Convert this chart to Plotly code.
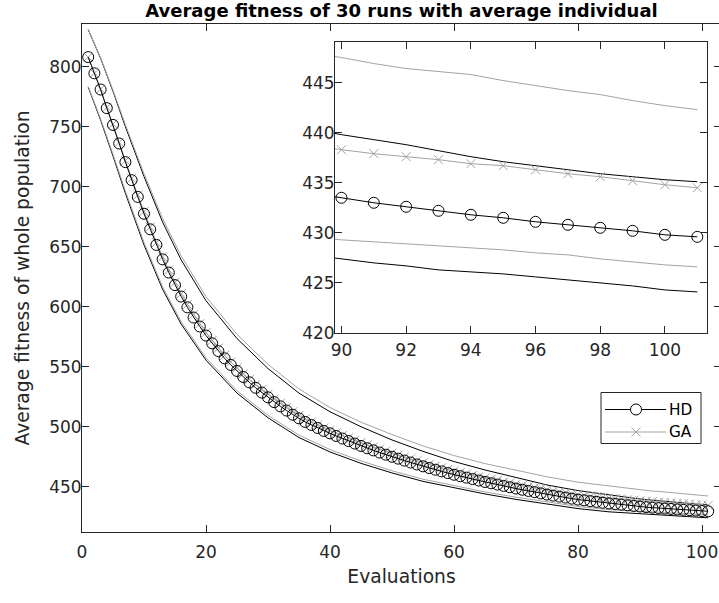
import plotly.graph_objects as go

# ---------------- data ----------------
evals = list(range(1, 102))

hd_mean = [808, 794.5, 781, 765.5, 751.5, 736, 720.5, 705.5, 691.5, 677.5,
           664.5, 651.5, 639.5, 628.5, 618, 608.5, 599.5, 591, 583.5, 576,
           569.5, 563, 557, 551.5, 546.5, 541.5, 537, 532.5, 528.5, 524.5,
           520.5, 517, 513.5, 510, 507, 504, 501.5, 499, 496.5, 494.5,
           492.3, 490.2, 488.1, 486, 484, 482.1, 480.3, 478.5, 476.7, 475,
           473.4, 471.8, 470.2, 468.6, 467, 465.6, 464.2, 462.8, 461.4, 460,
           458.8, 457.6, 456.4, 455.2, 454, 452.9, 451.8, 450.7, 449.6, 448.5,
           447.5, 446.5, 445.5, 444.5, 443.5, 442.6, 441.8, 441, 440.1, 439.3,
           438.7, 438, 437.4, 436.7, 436.1, 435.6, 435.1, 434.5, 434, 433.5,
           433.0, 432.6, 432.2, 431.8, 431.5, 431.1, 430.8, 430.5, 430.2, 429.8,
           429.6]

ga_mean = [808, 794.7, 781.4, 766.1, 752.3, 737, 721.7, 706.9, 693.1, 679.3,
           666.4, 653.5, 641.6, 630.7, 620.3, 610.8, 601.9, 593.4, 585.9, 578.4,
           572, 565.5, 559.5, 554, 549, 544, 539.5, 535, 531, 527,
           523, 519.5, 516, 512.5, 509.5, 506.5, 504, 501.5, 499, 497,
           494.9, 492.8, 490.8, 488.7, 486.8, 484.9, 483.2, 481.4, 479.7, 478,
           476.4, 474.8, 473.2, 471.6, 470, 468.6, 467.2, 465.8, 464.4, 463,
           461.9, 460.7, 459.6, 458.4, 457.3, 456.2, 455.2, 454.1, 453.1, 452,
           451.1, 450.1, 449.2, 448.3, 447.3, 446.5, 445.7, 445, 444.1, 443.3,
           442.8, 442.2, 441.7, 441.1, 440.6, 440.2, 439.8, 439.2, 438.8, 438.3,
           437.9, 437.6, 437.3, 436.9, 436.7, 436.3, 435.9, 435.6, 435.2, 434.8,
           434.5]

bound_evals = [1, 3, 5, 7, 10, 13, 16, 20, 25, 30, 35, 40, 45, 50, 55, 60, 65,
               70, 75, 80, 85, 89, 90, 91, 92, 93, 94, 95, 96, 97, 98, 99, 100, 101]

hd_upper = [831, 807, 779.5, 750, 708.5, 670.5, 639, 605, 573.5, 548.5, 528,
            512.5, 500, 489, 479.5, 471, 464, 457.5, 451.5, 446.8, 443.1, 440.4,
            439.8, 439.3, 438.8, 438.2, 437.6, 437.1, 436.7, 436.3, 435.9, 435.6,
            435.3, 435.1]

hd_lower = [783, 755.5, 725.5, 694.5, 651.5, 614.5, 585.5, 555.5, 528, 507.5,
            491, 479, 469.5, 461.5, 454.5, 449, 444, 439.5, 435.5, 431.8, 429.1,
            427.8, 427.4, 427.0, 426.7, 426.3, 426.1, 425.9, 425.6, 425.3, 425.0,
            424.7, 424.3, 424.1]

ga_upper = [831, 807.4, 780.3, 751.7, 710.8, 673.6, 642.3, 608.4, 577, 552,
            531.5, 516, 503.8, 493.5, 484, 476, 469.3, 463.5, 458.3, 453.8, 450.6,
            448, 447.5, 446.9, 446.4, 446.1, 445.8, 445.2, 444.7, 444.2, 443.8,
            443.2, 442.7, 442.3]

ga_lower = [783.5, 756.5, 727, 696.5, 653.5, 616.5, 587.5, 557.5, 530, 509.5,
            493, 481, 471.5, 463.3, 456.3, 450.7, 445.7, 441.3, 437.3, 433.6,
            430.9, 429.6, 429.3, 429.1, 428.9, 428.7, 428.5, 428.3, 428.0, 427.8,
            427.4, 427.1, 426.8, 426.6]

main_yticks = [450, 500, 550, 600, 650, 700, 750, 800]
main_xticks = [0, 20, 40, 60, 80, 100]
inset_yticks = [420, 425, 430, 435, 440, 445]
inset_xticks = [90, 92, 94, 96, 98, 100]
legend_labels = ["HD", "GA"]

# ---------------- styling ----------------
FONT = "DejaVu Sans, Liberation Sans, Arial, sans-serif"
AX = "#262626"
BLACK = "#000000"
GRAY = "#a3a3a3"
W, H = 723, 603
ML, MR, MT, MB = 82, 2, 24, 71
PW, PH = W - ML - MR, H - MT - MB
TICK_FS = 17
LABEL_FS = 18.7


def px2paper(px, py):
    return (px - ML) / PW, (H - MB - py) / PH


fig = go.Figure()

for axn in ("", "2"):
    xa, ya = "x" + axn, "y" + axn
    fig.add_trace(go.Scatter(x=bound_evals, y=hd_upper, mode="lines",
                             line=dict(color=BLACK, width=1), xaxis=xa, yaxis=ya,
                             showlegend=False, hoverinfo="skip"))
    fig.add_trace(go.Scatter(x=bound_evals, y=hd_lower, mode="lines",
                             line=dict(color=BLACK, width=1), xaxis=xa, yaxis=ya,
                             showlegend=False, hoverinfo="skip"))
    fig.add_trace(go.Scatter(x=bound_evals, y=ga_upper, mode="lines",
                             line=dict(color=GRAY, width=1), xaxis=xa, yaxis=ya,
                             showlegend=False, hoverinfo="skip"))
    fig.add_trace(go.Scatter(x=bound_evals, y=ga_lower, mode="lines",
                             line=dict(color=GRAY, width=1), xaxis=xa, yaxis=ya,
                             showlegend=False, hoverinfo="skip"))
    fig.add_trace(go.Scatter(x=evals, y=ga_mean, mode="lines+markers", name=legend_labels[1],
                             line=dict(color=GRAY, width=1),
                             marker=dict(symbol="x-thin-open", size=9,
                                         line=dict(color=GRAY, width=1)),
                             xaxis=xa, yaxis=ya, showlegend=False))
    fig.add_trace(go.Scatter(x=evals, y=hd_mean, mode="lines+markers", name=legend_labels[0],
                             line=dict(color=BLACK, width=1),
                             marker=dict(symbol="circle-open", size=11,
                                         line=dict(color=BLACK, width=1)),
                             xaxis=xa, yaxis=ya, showlegend=False))

axis_common = dict(showline=True, linecolor=AX, linewidth=1, mirror="allticks",
                   ticks="inside", tickcolor=AX, ticklen=7, tickwidth=1,
                   showgrid=False, zeroline=False,
                   tickfont=dict(family=FONT, size=TICK_FS, color=AX))

# inset domain (pixels -> plot fraction)
ix0, iy0 = px2paper(335, 333)
ix1, iy1 = px2paper(707, 41.5)

fig.update_layout(
    width=W, height=H,
    margin=dict(l=ML, r=MR, t=MT, b=MB, autoexpand=False),
    paper_bgcolor="white", plot_bgcolor="white",
    showlegend=False,
    title=dict(text="<b>Average fitness of 30 runs with average individual</b>",
               x=0.5, xref="paper", xanchor="center", y=1 - 10.5 / H,
               yanchor="middle",
               font=dict(family=FONT, size=18, color=BLACK)),
    xaxis=dict(range=[0, 639 / 6.2], tickvals=main_xticks, domain=[0, 1],
               ticklabelstandoff=5,
               title=dict(text="Evaluations", standoff=8,
                          font=dict(family=FONT, size=LABEL_FS, color=AX)),
               **axis_common),
    yaxis=dict(range=[412.3, 835.6], tickvals=main_yticks, domain=[0, 1],
               ticklabelstandoff=-4,
               title=dict(text="Average fitness of whole population", standoff=14,
                          font=dict(family=FONT, size=LABEL_FS, color=AX)),
               **axis_common),
    xaxis2=dict(range=[89.8, 101.3], tickvals=inset_xticks, domain=[ix0, ix1],
                anchor="y2", ticklabelstandoff=2, **axis_common),
    yaxis2=dict(range=[420, 449.1], tickvals=inset_yticks, domain=[iy0, iy1],
                anchor="x2", ticklabelstandoff=-4, **axis_common),
)

# white background for inset
fig.add_shape(type="rect", xref="paper", yref="paper", x0=ix0, x1=ix1, y0=iy0, y1=iy1,
              fillcolor="white", line=dict(width=0), layer="below")

# ---------------- legend (box, samples, text) ----------------
bx0, by0 = px2paper(601, 443.5)
bx1, by1 = px2paper(701, 392.5)
fig.add_shape(type="rect", xref="paper", yref="paper", x0=bx0, y0=by0, x1=bx1, y1=by1,
              line=dict(color=AX, width=1), fillcolor="white")
rows = [(409.5, BLACK, "circle"), (432, GRAY, "x")]
for (py, col, sym), label in zip(rows, legend_labels):
    lx0, ly = px2paper(605, py)
    lx1, _ = px2paper(666, py)
    fig.add_shape(type="line", xref="paper", yref="paper", x0=lx0, x1=lx1, y0=ly, y1=ly,
                  line=dict(color=col, width=1))
    mx, _ = px2paper(636, py)
    if sym == "circle":
        fig.add_shape(type="circle", xref="paper", yref="paper",
                      xsizemode="pixel", ysizemode="pixel", xanchor=mx, yanchor=ly,
                      x0=-5.5, x1=5.5, y0=-5.5, y1=5.5,
                      line=dict(color=col, width=1), fillcolor="white")
    else:
        for s in (1, -1):
            fig.add_shape(type="line", xref="paper", yref="paper",
                          xsizemode="pixel", ysizemode="pixel", xanchor=mx, yanchor=ly,
                          x0=-4.5, x1=4.5, y0=-4.5 * s, y1=4.5 * s,
                          line=dict(color=col, width=1))
    tx, _ = px2paper(667, py)
    fig.add_annotation(x=tx, y=ly, xref="paper", yref="paper", text=label,
                       showarrow=False, xanchor="left", yanchor="middle",
                       font=dict(family=FONT, size=15.3, color=BLACK))

fig.write_html(
    "out.html",
    config={"displayModeBar": False},
    post_script=("document.body.style.margin='0px';"
                 "document.body.style.overflow='hidden';"
                 "document.documentElement.style.overflow='hidden';"),
)
